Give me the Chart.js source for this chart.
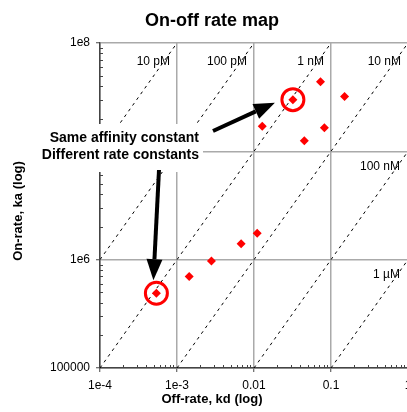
<!DOCTYPE html>
<html>
<head>
<meta charset="utf-8">
<title>On-off rate map</title>
<script src="https://cdn.jsdelivr.net/npm/chart.js@4.4.1/dist/chart.umd.min.js"></script>
<style>
  html, body { margin: 0; padding: 0; overflow: hidden; background: #fff; }
  #wrap { width: 407px; height: 412px; overflow: hidden; }
  canvas { display: block; }
</style>
</head>
<body>
<div id="wrap"><canvas id="rateMap" width="424" height="412"></canvas></div>
<script>
// Measured kinetics: off-rate kd (1/s) and on-rate ka (1/Ms)
const offRates = [0.073, 0.032, 0.15, 0.0128, 0.082, 0.045, 0.011, 0.0068, 0.0028, 0.00144, 0.00054];
const onRates  = [4.4e7, 3.0e7, 3.2e7, 1.7e7, 1.65e7, 1.25e7, 1.75e6, 1.4e6, 9.7e5, 7.0e5, 4.9e5];
// Two binders with the same 1 nM affinity, ringed on the map
const highlighted = [1, 10];

// Iso-affinity lines, KD = kd / ka
const affinities = [1e-11, 1e-10, 1e-9, 1e-8, 1e-7, 1e-6];
const affinityLabels = ['10 pM', '100 pM', '1 nM', '10 nM', '100 nM', '1 µM'];

const xTicks = [1e-4, 1e-3, 1e-2, 1e-1, 1];
const xTickLabels = ['1e-4', '1e-3', '0.01', '0.1', '1'];
const yTicks = [1e5, 1e6, 1e7, 1e8];
const yTickLabels = ['100000', '1e6', '1e7', '1e8'];

const FONT = "'Liberation Sans', Arial, sans-serif";
Chart.defaults.font.family = FONT;
Chart.defaults.color = '#000';

const points = offRates.map((kd, i) => ({ x: kd, y: onRates[i] }));
const rings = highlighted.map(i => ({ x: offRates[i], y: onRates[i] }));

// each KD line runs corner to corner of the ka range and is clipped by the chart area
const kdLines = affinities.map((kd, i) => ({
  label: affinityLabels[i],
  data: [{ x: kd * yTicks[0], y: yTicks[0] }, { x: kd * yTicks[yTicks.length - 1], y: yTicks[yTicks.length - 1] }],
  showLine: true,
  borderColor: '#000',
  borderWidth: 1,
  borderDash: [3, 4],
  pointRadius: 0,
  fill: false
}));

// small inward ticks at 2..9 of each decade
const minorTicks = {
  id: 'minorTicks',
  beforeDatasetsDraw(chart) {
    const { ctx, chartArea: a, scales: { x, y } } = chart;
    ctx.save();
    ctx.strokeStyle = '#444';
    ctx.lineWidth = 1;
    ctx.beginPath();
    for (let d = -4; d < 0; d++) {
      for (let m = 2; m <= 9; m++) {
        const px = Math.round(x.getPixelForValue(m * Math.pow(10, d))) + 0.5;
        ctx.moveTo(px, a.bottom);
        ctx.lineTo(px, a.bottom - 3);
      }
    }
    for (let d = 5; d < 8; d++) {
      for (let m = 2; m <= 9; m++) {
        const py = Math.round(y.getPixelForValue(m * Math.pow(10, d))) + 0.5;
        ctx.moveTo(a.left, py);
        ctx.lineTo(a.left + 3, py);
      }
    }
    ctx.stroke();
    ctx.restore();
  }
};

// KD names next to the end of each dashed line
const kdNames = {
  id: 'kdNames',
  afterDatasetsDraw(chart) {
    const { ctx, chartArea: a, scales: { x, y } } = chart;
    ctx.save();
    ctx.font = '12px ' + FONT;
    ctx.fillStyle = '#000';
    ctx.textAlign = 'right';
    ctx.textBaseline = 'middle';
    affinities.forEach((kd, i) => {
      const topKd = kd * y.max;
      if (topKd <= x.max) {
        ctx.fillText(affinityLabels[i], x.getPixelForValue(topKd) - 7, a.top + 19);
      } else {
        ctx.fillText(affinityLabels[i], a.right - 8, y.getPixelForValue(x.max / kd) + 15);
      }
    });
    ctx.restore();
  }
};

function drawArrow(ctx, x0, y0, x1, y1) {
  const ang = Math.atan2(y1 - y0, x1 - x0);
  const headLen = 21, headHalf = 8;
  const bx = x1 - headLen * Math.cos(ang);
  const by = y1 - headLen * Math.sin(ang);
  ctx.strokeStyle = '#000';
  ctx.fillStyle = '#000';
  ctx.lineWidth = 4;
  ctx.beginPath();
  ctx.moveTo(x0, y0);
  ctx.lineTo(bx, by);
  ctx.stroke();
  ctx.beginPath();
  ctx.moveTo(x1, y1);
  ctx.lineTo(bx + headHalf * Math.sin(ang), by - headHalf * Math.cos(ang));
  ctx.lineTo(bx - headHalf * Math.sin(ang), by + headHalf * Math.cos(ang));
  ctx.closePath();
  ctx.fill();
}

// titles, callout text box and arrows
const callout = {
  id: 'callout',
  afterDraw(chart) {
    const { ctx, scales: { x, y } } = chart;
    ctx.save();

    ctx.fillStyle = '#000';
    ctx.textAlign = 'center';
    ctx.textBaseline = 'alphabetic';
    ctx.font = 'bold 18px ' + FONT;
    ctx.fillText('On-off rate map', 212, 26);
    ctx.font = 'bold 13px ' + FONT;
    ctx.fillText('Off-rate, kd (log)', 212, 403);
    ctx.save();
    ctx.translate(22, 211);
    ctx.rotate(-Math.PI / 2);
    ctx.fillText('On-rate, ka (log)', 0, 0);
    ctx.restore();

    ctx.fillStyle = '#fff';
    ctx.fillRect(40, 124, 163, 48);
    ctx.fillStyle = '#000';
    ctx.font = 'bold 14px ' + FONT;
    ctx.textAlign = 'right';
    ctx.fillText('Same affinity constant', 199, 142);
    ctx.fillText('Different rate constants', 199, 159);

    const [hi, lo] = highlighted;
    const hx = x.getPixelForValue(offRates[hi]), hy = y.getPixelForValue(onRates[hi]);
    const lx = x.getPixelForValue(offRates[lo]), ly = y.getPixelForValue(onRates[lo]);
    drawArrow(ctx, 213, 131, hx - 18, hy + 3);
    drawArrow(ctx, 159, 170, lx - 3, ly - 13);
    ctx.restore();
  }
};

new Chart(document.getElementById('rateMap'), {
  type: 'scatter',
  data: {
    datasets: [
      {
        label: 'Binders',
        data: points,
        pointStyle: 'rectRot',
        pointRadius: 4.5,
        backgroundColor: '#ff0000',
        borderColor: '#ff0000',
        borderWidth: 0
      },
      {
        label: 'Same affinity',
        data: rings,
        pointStyle: 'circle',
        pointRadius: 11,
        backgroundColor: 'rgba(0,0,0,0)',
        borderColor: '#ff0000',
        borderWidth: 3
      },
      ...kdLines
    ]
  },
  options: {
    responsive: false,
    animation: false,
    events: [],
    layout: { padding: { left: 0, top: 43, right: 16, bottom: 0 } },
    plugins: { legend: { display: false }, tooltip: { enabled: false } },
    scales: {
      x: {
        type: 'logarithmic',
        min: xTicks[0],
        max: xTicks[xTicks.length - 1],
        afterBuildTicks: s => { s.ticks = xTicks.map(v => ({ value: v })); },
        afterFit: s => { s.height = 44; },
        ticks: {
          callback: (v, i) => xTickLabels[i],
          autoSkip: false,
          maxRotation: 0,
          padding: 6,
          font: { size: 12 }
        },
        grid: { color: '#aaa', lineWidth: 1.5, tickColor: '#444', tickLength: 4, tickWidth: 1 },
        border: { color: '#444', width: 1.5 }
      },
      y: {
        type: 'logarithmic',
        min: yTicks[0],
        max: yTicks[yTicks.length - 1],
        afterBuildTicks: s => { s.ticks = yTicks.map(v => ({ value: v })); },
        afterFit: s => { s.width = 100; },
        ticks: {
          callback: (v, i) => yTickLabels[i],
          autoSkip: false,
          padding: 6,
          font: { size: 12 }
        },
        grid: { color: '#aaa', lineWidth: 1.5, tickColor: '#444', tickLength: 4, tickWidth: 1 },
        border: { color: '#444', width: 1.5 }
      }
    }
  },
  plugins: [minorTicks, kdNames, callout]
});
</script>
</body>
</html>
